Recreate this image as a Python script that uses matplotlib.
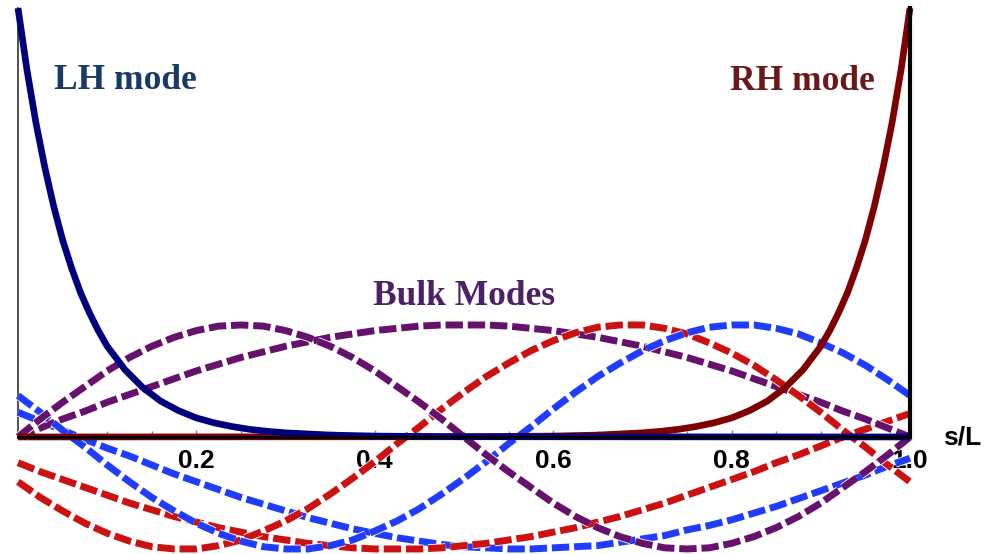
"""Edge (LH / RH) modes and bulk standing modes along s/L."""

import matplotlib

matplotlib.use("Agg")
import matplotlib.patheffects as pe
import matplotlib.pyplot as plt

# ---- data ----
S_BULK = [0.000, 0.025, 0.050, 0.075, 0.100, 0.125, 0.150, 0.175, 0.200, 0.225,
          0.250, 0.275, 0.300, 0.325, 0.350, 0.375, 0.400, 0.425, 0.450, 0.475,
          0.500, 0.525, 0.550, 0.575, 0.600, 0.625, 0.650, 0.675, 0.700, 0.725,
          0.750, 0.775, 0.800, 0.825, 0.850, 0.875, 0.900, 0.925, 0.950, 0.975,
          1.000]

PURPLE_1 = [0, .16, .31, .45, .59, .71, .81, .89, .95, .99,
            1.0, .99, .95, .89, .81, .71, .59, .45, .31, .16,
            0, -.16, -.31, -.45, -.59, -.71, -.81, -.89, -.95, -.99,
            -1.0, -.99, -.95, -.89, -.81, -.71, -.59, -.45, -.31, -.16,
            0]
PURPLE_2 = [0, .08, .16, .23, .31, .38, .45, .52, .59, .65,
            .71, .76, .81, .85, .89, .92, .95, .97, .99, 1.0,
            1.0, 1.0, .99, .97, .95, .92, .89, .85, .81, .76,
            .71, .65, .59, .52, .45, .38, .31, .23, .16, .08,
            0]
RED_1 = [-.23, -.31, -.38, -.45, -.52, -.59, -.65, -.71, -.76, -.81,
         -.85, -.89, -.92, -.95, -.97, -.99, -1.0, -1.0, -1.0, -.99,
         -.97, -.95, -.92, -.89, -.85, -.81, -.76, -.71, -.65, -.59,
         -.52, -.45, -.38, -.31, -.23, -.16, -.08, 0, .07, .14,
         .21]
RED_2 = [-.40, -.54, -.66, -.77, -.86, -.93, -.98, -1.0, -1.0, -.97,
         -.92, -.84, -.75, -.64, -.51, -.37, -.22, -.06, .09, .25,
         .40, .54, .66, .77, .86, .93, .98, 1.0, 1.0, .97,
         .92, .84, .75, .64, .51, .37, .22, .06, -.09, -.25,
         -.40]
BLUE_1 = [.37, .22, .06, -.09, -.25, -.40, -.54, -.66, -.77, -.86,
          -.93, -.98, -1.0, -1.0, -.97, -.92, -.84, -.75, -.64, -.51,
          -.37, -.22, -.06, .09, .25, .40, .54, .66, .77, .86,
          .93, .98, 1.0, 1.0, .97, .92, .84, .75, .64, .51,
          .37]
BLUE_2 = [.22, .14, .06, -.02, -.10, -.17, -.25, -.33, -.40, -.47,
          -.54, -.60, -.66, -.72, -.77, -.82, -.86, -.90, -.93, -.96,
          -.98, -.99, -1.0, -1.0, -.99, -.98, -.97, -.94, -.91, -.88,
          -.83, -.79, -.74, -.68, -.62, -.55, -.48, -.41, -.34, -.26,
          -.19]

LH_S = [0.00, 0.01, 0.02, 0.03, 0.04, 0.05, 0.06, 0.07, 0.08, 0.09, 0.10,
        0.12, 0.14, 0.16, 0.18, 0.20, 0.22, 0.24, 0.26, 0.28, 0.30,
        0.35, 0.40, 0.50, 1.00]
LH_Y = [3.83, 3.28, 2.81, 2.41, 2.06, 1.76, 1.51, 1.29, 1.11, 0.95, 0.81,
        0.60, 0.44, 0.32, 0.235, 0.17, 0.126, 0.093, 0.068, 0.05, 0.037,
        0.017, 0.008, 0.002, 0]

RH_S = [0.00, 0.50, 0.60, 0.65, 0.70, 0.72, 0.74, 0.76, 0.78, 0.80, 0.82,
        0.84, 0.86, 0.88, 0.90, 0.91, 0.92, 0.93, 0.94, 0.95, 0.96,
        0.97, 0.98, 0.99, 1.00]
RH_Y = [0, 0.002, 0.008, 0.017, 0.037, 0.05, 0.068, 0.093, 0.126, 0.17, 0.235,
        0.32, 0.44, 0.60, 0.81, 0.95, 1.11, 1.29, 1.51, 1.76, 2.06,
        2.41, 2.81, 3.28, 3.83]

MAJOR_TICKS = [0.2, 0.4, 0.6, 0.8, 1.0]
MAJOR_LABELS = ["0.2", "0.4", "0.6", "0.8", "1.0"]
MINOR_TICKS = [0.05, 0.10, 0.15, 0.25, 0.30, 0.35, 0.45, 0.50, 0.55,
               0.65, 0.70, 0.75, 0.85, 0.90, 0.95]

_NAVY = "#00007f"
_MAROON = "#7f0000"
_PURPLE = "#66116b"
_RED = "#cc1111"
_BLUE = "#1f3cff"

fig = plt.figure(figsize=(9.86, 5.54), dpi=100)
ax = fig.add_axes([0, 0, 1, 1])
ax.set_xlim(-18 / 892, 968 / 892)
ax.set_ylim(-1.045, 3.902)

dash_fx = [pe.Stroke(linewidth=6.2, foreground="white"), pe.Normal()]
for ys, col in [(BLUE_2, _BLUE), (RED_1, _RED), (PURPLE_2, _PURPLE),
                (RED_2, _RED), (BLUE_1, _BLUE), (PURPLE_1, _PURPLE)]:
    ax.plot(S_BULK, ys, color=col, lw=5.0, dashes=(2.5, 0.7),
            solid_joinstyle="round", path_effects=dash_fx, zorder=3)

ax.plot(RH_S, RH_Y, color=_MAROON, lw=4.8, zorder=4, solid_capstyle="butt")
ax.plot(LH_S, LH_Y, color=_NAVY, lw=4.8, zorder=4, solid_capstyle="butt")

# axes drawn Mathematica-style
ax.spines["top"].set_visible(False)
ax.spines["bottom"].set_position(("data", 0))
ax.spines["bottom"].set_bounds(0, 1)
ax.spines["bottom"].set_linewidth(2.2)
ax.spines["bottom"].set_zorder(5)
ax.spines["left"].set_position(("data", 0))
ax.spines["left"].set_bounds(0, 3.83)
ax.spines["left"].set_linewidth(1.2)
ax.spines["left"].set_color("#333333")
ax.spines["right"].set_position(("data", 1))
ax.spines["right"].set_bounds(0, 3.83)
ax.spines["right"].set_linewidth(3.0)
ax.spines["right"].set_zorder(5)

ax.set_yticks([])
ax.set_xticks(MAJOR_TICKS, MAJOR_LABELS)
ax.set_xticks(MINOR_TICKS, minor=True)
ax.tick_params(axis="x", which="both", direction="in", color="#888888",
               width=1, pad=9)
ax.tick_params(axis="x", which="major", length=5)
ax.tick_params(axis="x", which="minor", length=4)
for lab in ax.get_xticklabels():
    lab.set_fontfamily("Liberation Sans")
    lab.set_fontweight("bold")
    lab.set_fontsize(19)

ax.text(1.058, -0.07, "s/L", ha="center", va="baseline",
        family="Liberation Sans", weight="bold", fontsize=19)

serif = dict(family="Liberation Serif", weight="bold", fontsize=25.5)
ax.text(0.12, 3.11, "LH mode", ha="center", va="baseline", color="#173a66", **serif)
ax.text(0.879, 3.10, "RH mode", ha="center", va="baseline", color="#6b1818", **serif)
ax.text(0.50, 1.18, "Bulk Modes", ha="center", va="baseline", color="#4b2066", **serif)

fig.savefig("out.png", dpi=100)
